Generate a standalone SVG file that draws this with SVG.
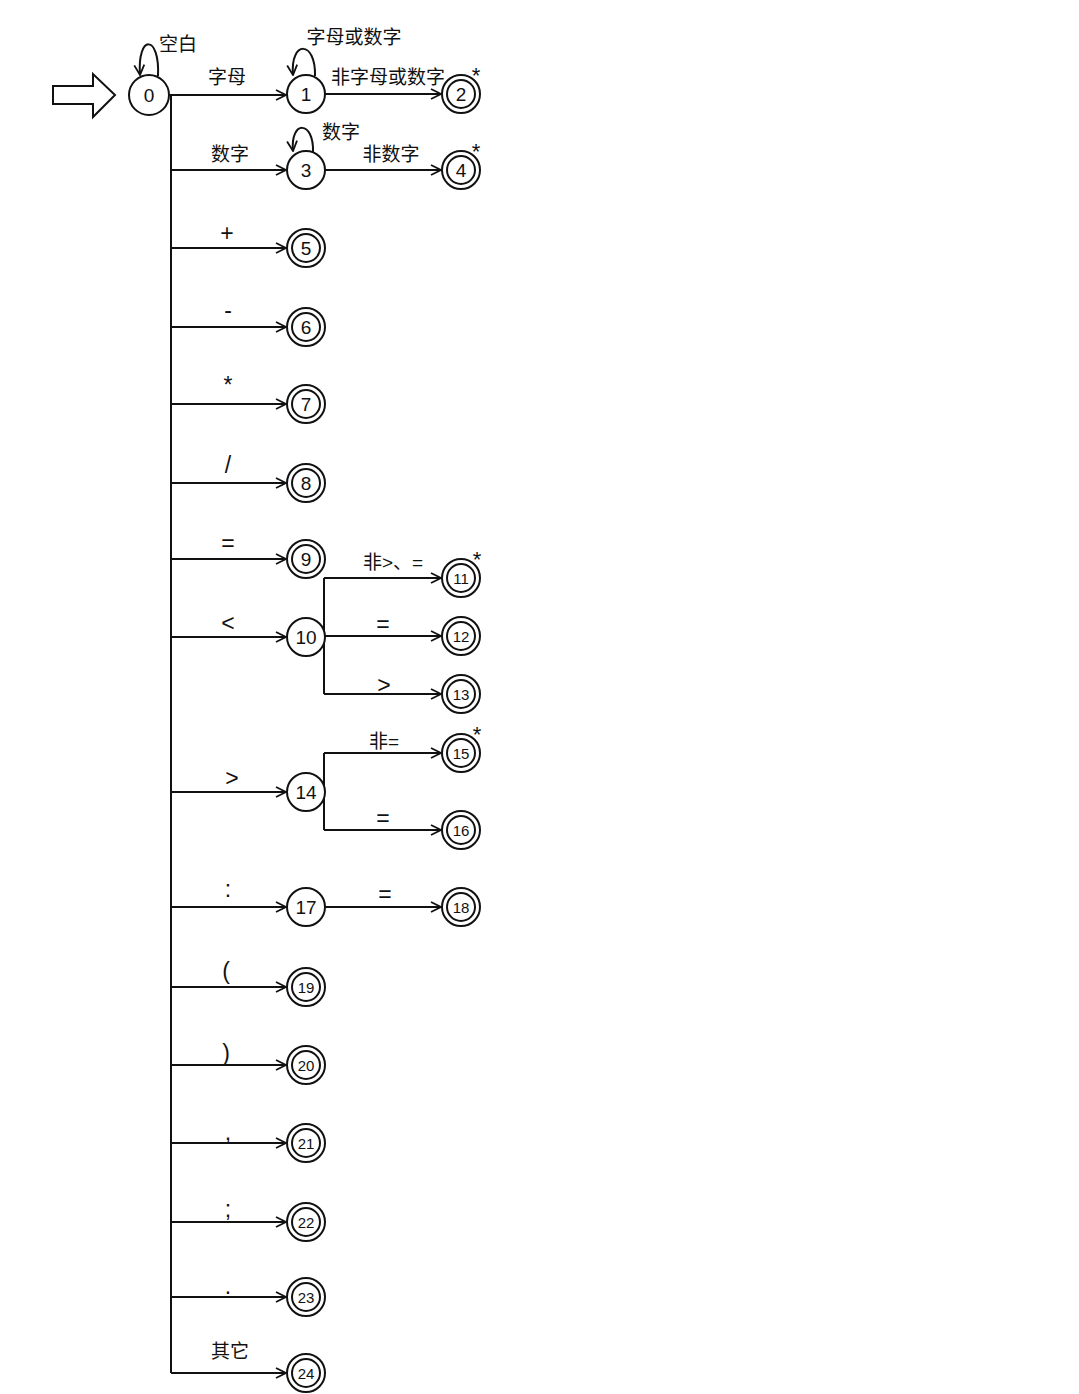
<svg xmlns="http://www.w3.org/2000/svg" width="1079" height="1394" viewBox="0 0 1079 1394">
<style>
.ln{fill:none;stroke:#111;stroke-width:2}
.c{fill:#fff;stroke:#111;stroke-width:2}
.n{font-family:"Liberation Sans","Noto Sans CJK SC",sans-serif;font-size:19px;fill:#111;text-anchor:middle;dominant-baseline:central}
.l{font-family:"Liberation Sans","Noto Sans CJK SC",sans-serif;font-size:19px;fill:#111;text-anchor:middle;dominant-baseline:central}
.y{font-family:"Liberation Sans",sans-serif;font-size:23px;fill:#111;text-anchor:middle;dominant-baseline:central}
.s{font-family:"Liberation Sans",sans-serif;font-size:22px;fill:#111;text-anchor:middle;dominant-baseline:central}
</style>
<defs>
<marker id="ah" viewBox="0 0 12 12" refX="11" refY="6" markerWidth="12" markerHeight="12" markerUnits="userSpaceOnUse" orient="auto">
<path d="M1,1 L11,6 L1,11" fill="none" stroke="#111" stroke-width="1.8"/>
</marker>
</defs>
<rect width="1079" height="1394" fill="#fff"/>
<g id="start">
<polygon class="ln" points="53,86 93,86 93,74 115,95 93,117 93,104 53,104"/>
</g>
<g id="connectors">
<path class="ln" d="M171,95 V1373"/>
<path class="ln" d="M158,76 C160,34 137,34 140,75" marker-end="url(#ah)"/>
<path class="ln" d="M169,95 H286" marker-end="url(#ah)"/>
<path class="ln" d="M315,76 C316,40 290,40 293,75" marker-end="url(#ah)"/>
<path class="ln" d="M325,94 H441" marker-end="url(#ah)"/>
<path class="ln" d="M171,170 H286" marker-end="url(#ah)"/>
<path class="ln" d="M313,152 C314,120 290,120 293,151" marker-end="url(#ah)"/>
<path class="ln" d="M325,170 H441" marker-end="url(#ah)"/>
<path class="ln" d="M171,248 H286" marker-end="url(#ah)"/>
<path class="ln" d="M171,327 H286" marker-end="url(#ah)"/>
<path class="ln" d="M171,404 H286" marker-end="url(#ah)"/>
<path class="ln" d="M171,483 H286" marker-end="url(#ah)"/>
<path class="ln" d="M171,559 H286" marker-end="url(#ah)"/>
<path class="ln" d="M171,637 H286" marker-end="url(#ah)"/>
<path class="ln" d="M324,578 V694"/>
<path class="ln" d="M324,578 H441" marker-end="url(#ah)"/>
<path class="ln" d="M325,636 H441" marker-end="url(#ah)"/>
<path class="ln" d="M324,694 H441" marker-end="url(#ah)"/>
<path class="ln" d="M171,792 H286" marker-end="url(#ah)"/>
<path class="ln" d="M324,753 V830"/>
<path class="ln" d="M324,753 H441" marker-end="url(#ah)"/>
<path class="ln" d="M324,830 H441" marker-end="url(#ah)"/>
<path class="ln" d="M171,907 H286" marker-end="url(#ah)"/>
<path class="ln" d="M325,907 H441" marker-end="url(#ah)"/>
<path class="ln" d="M171,987 H286" marker-end="url(#ah)"/>
<path class="ln" d="M171,1065 H286" marker-end="url(#ah)"/>
<path class="ln" d="M171,1143 H286" marker-end="url(#ah)"/>
<path class="ln" d="M171,1222 H286" marker-end="url(#ah)"/>
<path class="ln" d="M171,1297 H286" marker-end="url(#ah)"/>
<path class="ln" d="M171,1373 H286" marker-end="url(#ah)"/>
</g>
<g id="labels">
<text class="l" x="178" y="44">空白</text>
<text class="l" x="227" y="77">字母</text>
<text class="l" x="354" y="37">字母或数字</text>
<text class="l" x="388" y="77">非字母或数字</text>
<text class="l" x="230" y="154">数字</text>
<text class="l" x="341" y="132">数字</text>
<text class="l" x="391" y="154">非数字</text>
<text class="y" x="227" y="233">+</text>
<text class="y" x="228" y="310">-</text>
<text class="y" x="228" y="385">*</text>
<text class="y" x="228" y="465">/</text>
<text class="y" x="228" y="543">=</text>
<text class="y" x="228" y="623">&lt;</text>
<text class="l" x="393" y="562">非&gt;、=</text>
<text class="y" x="383" y="624">=</text>
<text class="y" x="384" y="685">&gt;</text>
<text class="y" x="232" y="778">&gt;</text>
<text class="l" x="384" y="741">非=</text>
<text class="y" x="383" y="818">=</text>
<text class="y" x="228" y="889">:</text>
<text class="y" x="385" y="894">=</text>
<text class="y" x="226" y="971">(</text>
<text class="y" x="226" y="1053">)</text>
<text class="y" x="228" y="1132">,</text>
<text class="y" x="228" y="1209">;</text>
<text class="y" x="228" y="1286">.</text>
<text class="l" x="230" y="1351">其它</text>
</g>
<g id="n0"><circle class="c" cx="149" cy="95" r="20"/><text class="n" x="149" y="95">0</text></g>
<g id="n1"><circle class="c" cx="306" cy="94" r="19"/><text class="n" x="306" y="94">1</text></g>
<g id="n2"><circle class="c" cx="461" cy="94" r="19"/><circle class="c" cx="461" cy="94" r="14"/><text class="n" x="461" y="94">2</text><text class="s" x="476" y="75">*</text></g>
<g id="n3"><circle class="c" cx="306" cy="170" r="19"/><text class="n" x="306" y="170">3</text></g>
<g id="n4"><circle class="c" cx="461" cy="170" r="19"/><circle class="c" cx="461" cy="170" r="14"/><text class="n" x="461" y="170">4</text><text class="s" x="476" y="151">*</text></g>
<g id="n5"><circle class="c" cx="306" cy="248" r="19"/><circle class="c" cx="306" cy="248" r="14"/><text class="n" x="306" y="248">5</text></g>
<g id="n6"><circle class="c" cx="306" cy="327" r="19"/><circle class="c" cx="306" cy="327" r="14"/><text class="n" x="306" y="327">6</text></g>
<g id="n7"><circle class="c" cx="306" cy="404" r="19"/><circle class="c" cx="306" cy="404" r="14"/><text class="n" x="306" y="404">7</text></g>
<g id="n8"><circle class="c" cx="306" cy="483" r="19"/><circle class="c" cx="306" cy="483" r="14"/><text class="n" x="306" y="483">8</text></g>
<g id="n9"><circle class="c" cx="306" cy="559" r="19"/><circle class="c" cx="306" cy="559" r="14"/><text class="n" x="306" y="559">9</text></g>
<g id="n10"><circle class="c" cx="306" cy="637" r="19"/><text class="n" x="306" y="637">10</text></g>
<g id="n11"><circle class="c" cx="461" cy="578" r="19"/><circle class="c" cx="461" cy="578" r="14"/><text class="n" x="461" y="578" style="font-size:15px">11</text><text class="s" x="477" y="559">*</text></g>
<g id="n12"><circle class="c" cx="461" cy="636" r="19"/><circle class="c" cx="461" cy="636" r="14"/><text class="n" x="461" y="636" style="font-size:15px">12</text></g>
<g id="n13"><circle class="c" cx="461" cy="694" r="19"/><circle class="c" cx="461" cy="694" r="14"/><text class="n" x="461" y="694" style="font-size:15px">13</text></g>
<g id="n14"><circle class="c" cx="306" cy="792" r="19"/><text class="n" x="306" y="792">14</text></g>
<g id="n15"><circle class="c" cx="461" cy="753" r="19"/><circle class="c" cx="461" cy="753" r="14"/><text class="n" x="461" y="753" style="font-size:15px">15</text><text class="s" x="477" y="734">*</text></g>
<g id="n16"><circle class="c" cx="461" cy="830" r="19"/><circle class="c" cx="461" cy="830" r="14"/><text class="n" x="461" y="830" style="font-size:15px">16</text></g>
<g id="n17"><circle class="c" cx="306" cy="907" r="19"/><text class="n" x="306" y="907">17</text></g>
<g id="n18"><circle class="c" cx="461" cy="907" r="19"/><circle class="c" cx="461" cy="907" r="14"/><text class="n" x="461" y="907" style="font-size:15px">18</text></g>
<g id="n19"><circle class="c" cx="306" cy="987" r="19"/><circle class="c" cx="306" cy="987" r="14"/><text class="n" x="306" y="987" style="font-size:15px">19</text></g>
<g id="n20"><circle class="c" cx="306" cy="1065" r="19"/><circle class="c" cx="306" cy="1065" r="14"/><text class="n" x="306" y="1065" style="font-size:15px">20</text></g>
<g id="n21"><circle class="c" cx="306" cy="1143" r="19"/><circle class="c" cx="306" cy="1143" r="14"/><text class="n" x="306" y="1143" style="font-size:15px">21</text></g>
<g id="n22"><circle class="c" cx="306" cy="1222" r="19"/><circle class="c" cx="306" cy="1222" r="14"/><text class="n" x="306" y="1222" style="font-size:15px">22</text></g>
<g id="n23"><circle class="c" cx="306" cy="1297" r="19"/><circle class="c" cx="306" cy="1297" r="14"/><text class="n" x="306" y="1297" style="font-size:15px">23</text></g>
<g id="n24"><circle class="c" cx="306" cy="1373" r="19"/><circle class="c" cx="306" cy="1373" r="14"/><text class="n" x="306" y="1373" style="font-size:15px">24</text></g>
</svg>
